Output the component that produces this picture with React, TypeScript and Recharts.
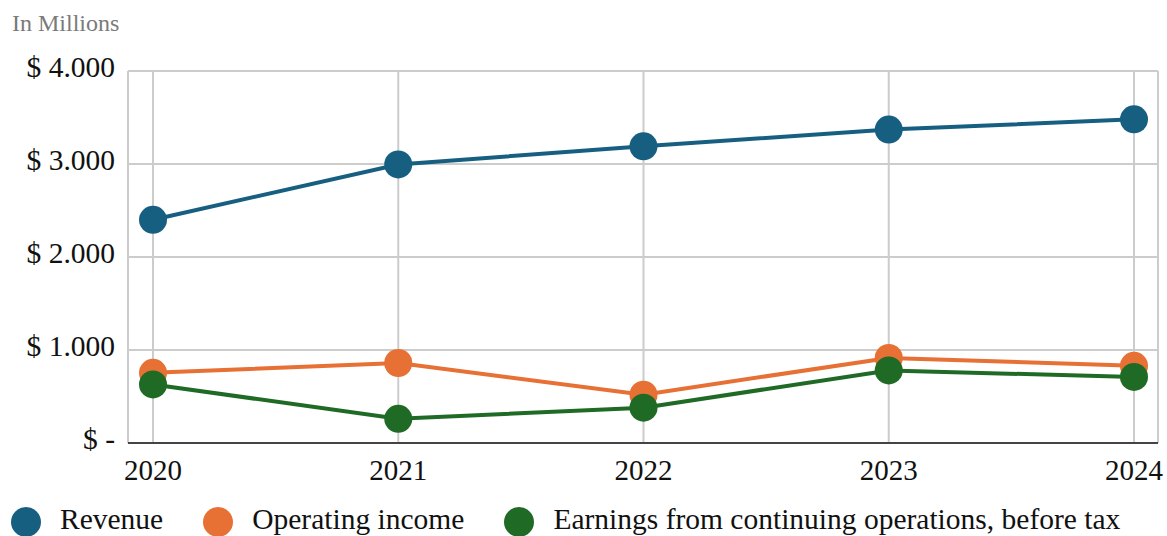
import React from 'react';
import { LineChart, Line, XAxis, YAxis, CartesianGrid } from 'recharts';

// values in millions
const years = ['2020', '2021', '2022', '2023', '2024'];
const revenue = [2400, 2995, 3190, 3370, 3480];
const operatingIncome = [755, 860, 520, 915, 830];
const earningsBeforeTax = [630, 260, 380, 780, 710];
const yTicks = [0, 1000, 2000, 3000, 4000];

const series = [
    { key: 'revenue', name: 'Revenue', color: '#175f80' },
    { key: 'operating', name: 'Operating income', color: '#e77035' },
    { key: 'earnings', name: 'Earnings from continuing operations, before tax', color: '#1f6b25' },
];

const data = years.map((year, i) => ({
    year,
    revenue: revenue[i],
    operating: operatingIncome[i],
    earnings: earningsBeforeTax[i],
}));

const FONT = '"Liberation Serif", "Times New Roman", serif';

const formatMoney = (v: number) =>
    v === 0 ? '$ -' : '$ ' + v.toLocaleString('de-DE');

function YTick(props: any) {
    const { x, y, payload } = props;
    return (
        <text x={x} y={y} dy={6} textAnchor="end" fill="#111" fontSize={29.5} fontFamily={FONT}>
            {formatMoney(payload.value)}
        </text>
    );
}

function XTick(props: any) {
    const { x, y, payload } = props;
    return (
        <text x={x} y={y} dy={19} textAnchor="middle" fill="#111" fontSize={29} fontFamily={FONT}>
            {payload.value}
        </text>
    );
}

export default function App() {
    return (
        <div
            style={{
                position: 'absolute',
                left: 0,
                top: 0,
                width: 1167,
                height: 536,
                background: '#fff',
                fontFamily: FONT,
            }}
        >
            <div
                style={{
                    position: 'absolute',
                    left: 12,
                    top: 8,
                    fontSize: 24,
                    color: '#7a7a7a',
                    lineHeight: '30px',
                }}
            >
                In Millions
            </div>

            <LineChart
                width={1167}
                height={536}
                data={data}
                margin={{ top: 71, right: 9, left: 0, bottom: 43 }}
            >
                <CartesianGrid stroke="#cccccc" strokeWidth={2} />
                <XAxis
                    dataKey="year"
                    height={50}
                    padding={{ left: 25, right: 24 }}
                    axisLine={{ stroke: '#444', strokeWidth: 2 }}
                    tickLine={false}
                    tickSize={6}
                    tickMargin={12}
                    tick={<XTick />}
                    interval={0}
                />
                <YAxis
                    width={128}
                    domain={[0, 4000]}
                    ticks={yTicks}
                    axisLine={false}
                    tickLine={false}
                    tickSize={6}
                    tickMargin={7}
                    tick={<YTick />}
                    interval={0}
                />
                {series.map((s) => (
                    <Line
                        key={s.key}
                        dataKey={s.key}
                        name={s.name}
                        type="linear"
                        stroke={s.color}
                        strokeWidth={4}
                        dot={{ r: 14, fill: s.color, stroke: 'none' }}
                        activeDot={false}
                        isAnimationActive={false}
                    />
                ))}
            </LineChart>

            <div
                style={{
                    position: 'absolute',
                    left: 11,
                    top: 503,
                    height: 32,
                    display: 'flex',
                    alignItems: 'center',
                    fontSize: 29.5,
                    lineHeight: '32px',
                    color: '#111',
                }}
            >
                {series.map((s, i) => (
                    <div
                        key={s.key}
                        style={{ display: 'flex', alignItems: 'center', marginRight: i < series.length - 1 ? 40 : 0 }}
                    >
                        <span
                            style={{
                                display: 'inline-block',
                                position: 'relative',
                                top: 3,
                                width: 30,
                                height: 30,
                                borderRadius: '50%',
                                background: s.color,
                                marginRight: 19,
                            }}
                        />
                        <span style={{ whiteSpace: 'nowrap' }}>{s.name}</span>
                    </div>
                ))}
            </div>
        </div>
    );
}
